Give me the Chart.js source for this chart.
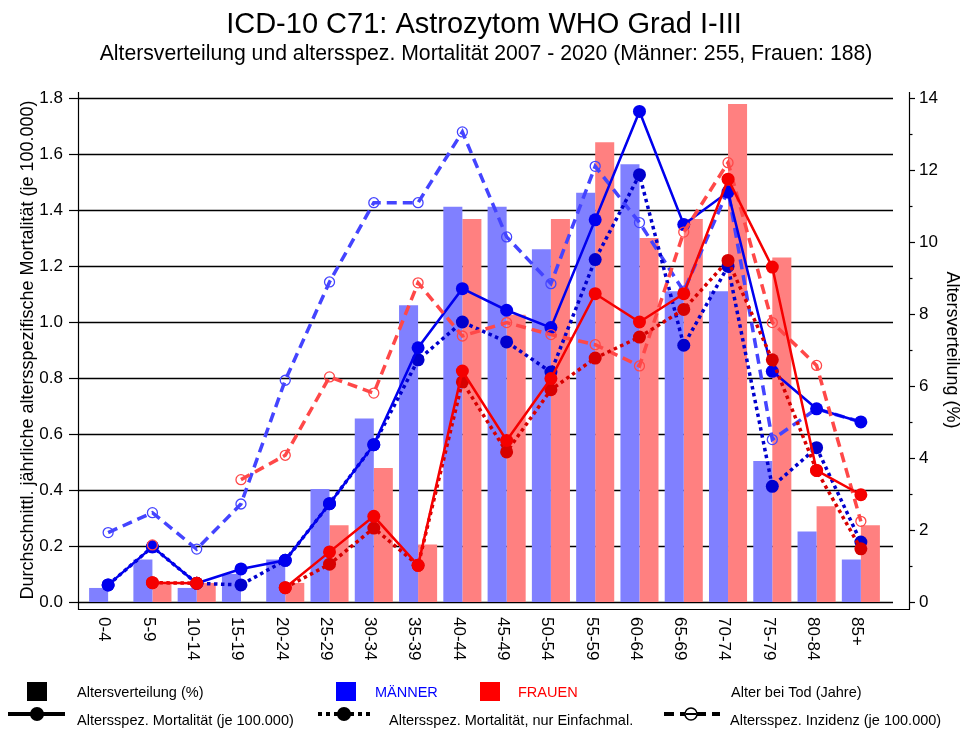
<!DOCTYPE html>
<html>
<head>
<meta charset="utf-8">
<title>ICD-10 C71: Astrozytom WHO Grad I-III</title>
<script src="https://cdn.jsdelivr.net/npm/chart.js@4.4.1/dist/chart.umd.min.js"></script>
<style>
  html, body { margin: 0; padding: 0; background: #fff; }
  #wrap { width: 963px; height: 729px; position: relative; }
</style>
</head>
<body>
<div id="wrap"><canvas id="chart" width="963" height="729"></canvas></div>
<script>
// --- Daten ---
const ageGroups = ['0-4', '5-9', '10-14', '15-19', '20-24', '25-29', '30-34', '35-39', '40-44',
                   '45-49', '50-54', '55-59', '60-64', '65-69', '70-74', '75-79', '80-84', '85+'];

// Altersverteilung (%)
const distMen   = [0.39, 1.18, 0.39, 0.78, 1.18, 3.14, 5.10, 8.24, 10.98, 10.98, 9.80, 11.37, 12.16, 8.63, 8.63, 3.92, 1.96, 1.18];
const distWomen = [0, 0.53, 0.53, 0, 0.53, 2.13, 3.72, 1.60, 10.64, 7.98, 10.64, 12.77, 10.11, 10.64, 13.83, 9.57, 2.66, 2.13];

// Altersspez. Mortalität (je 100.000)
const mortMen   = [0.061, 0.197, 0.067, 0.118, 0.149, 0.351, 0.562, 0.908, 1.119, 1.042, 0.980, 1.365, 1.752, 1.348, 1.464, 0.824, 0.690, 0.643];
const mortWomen = [null, 0.069, 0.067, null, 0.051, 0.179, 0.306, 0.131, 0.825, 0.577, 0.798, 1.101, 1.000, 1.101, 1.510, 1.196, 0.470, 0.383];

// Altersspez. Mortalität, nur Einfachmal.
const mortSingleMen   = [0.061, 0.197, 0.067, 0.061, 0.149, 0.351, 0.562, 0.865, 1.000, 0.929, 0.821, 1.223, 1.526, 0.917, 1.199, 0.413, 0.551, 0.214];
const mortSingleWomen = [null, 0.069, 0.067, null, 0.051, 0.135, 0.264, 0.131, 0.786, 0.536, 0.758, 0.871, 0.946, 1.045, 1.220, 0.865, 0.470, 0.190];

// Altersspez. Inzidenz (je 100.000)
const incMen   = [0.248, 0.319, 0.189, 0.350, 0.792, 1.143, 1.426, 1.426, 1.679, 1.304, 1.137, 1.556, 1.355, 1.110, 1.470, 0.580, 0.690, 0.643];
const incWomen = [null, 0.204, null, 0.437, 0.524, 0.804, 0.746, 1.140, 0.950, 0.998, 0.955, 0.919, 0.843, 1.321, 1.569, 0.998, 0.845, 0.288];

const leftTicks  = [0, 0.2, 0.4, 0.6, 0.8, 1.0, 1.2, 1.4, 1.6, 1.8];
const rightTicks = [0, 2, 4, 6, 8, 10, 12, 14];

const FONT = '"Liberation Sans", Arial, Helvetica, sans-serif';

const BLUE_BAR = 'rgb(128,128,255)';
const RED_BAR = 'rgb(255,128,128)';
const BLUE_SOLID = 'rgb(0,0,238)';
const BLUE_DOT = 'rgb(0,0,205)';
const BLUE_DASH = 'rgb(68,68,255)';
const RED_SOLID = 'rgb(245,0,0)';
const RED_DOT = 'rgb(215,0,0)';
const RED_DASH = 'rgb(255,72,72)';

// Geometrie des Rahmens (wie in der Vorlage)
const AXIS_LEFT_X = 78;
const AXIS_RIGHT_X = 909;
const AXIS_TOP_Y = 92;
const AXIS_BOTTOM_Y = 609;
const GRID_RIGHT_X = 893;

function solidLine(label, data, color) {
    return {
        type: 'line', label: label, data: data, yAxisID: 'y',
        borderColor: color, borderWidth: 2.5,
        pointRadius: 6.5, pointBackgroundColor: color, pointBorderWidth: 0,
        spanGaps: false, tension: 0
    };
}
function dottedLine(label, data, color) {
    return {
        type: 'line', label: label, data: data, yAxisID: 'y',
        borderColor: color, borderWidth: 3.5, borderDash: [3.5, 3.5],
        pointRadius: 6.5, pointBackgroundColor: color, pointBorderWidth: 0,
        spanGaps: false, tension: 0
    };
}
function dashedLine(label, data, color) {
    return {
        type: 'line', label: label, data: data, yAxisID: 'y',
        borderColor: color, borderWidth: 3.5, borderDash: [10, 6],
        pointRadius: 5, pointBackgroundColor: 'rgba(255,255,255,0)',
        pointBorderColor: color, pointBorderWidth: 1.3,
        spanGaps: false, tension: 0
    };
}

const blueLines = [solidLine('Mortalität Männer', mortMen, BLUE_SOLID),
                   dottedLine('Mortalität Einfachmal. Männer', mortSingleMen, BLUE_DOT),
                   dashedLine('Inzidenz Männer', incMen, BLUE_DASH)];
const redLines = [solidLine('Mortalität Frauen', mortWomen, RED_SOLID),
                  dottedLine('Mortalität Einfachmal. Frauen', mortSingleWomen, RED_DOT),
                  dashedLine('Inzidenz Frauen', incWomen, RED_DASH)];
blueLines.forEach(d => d.order = 2);
redLines.forEach(d => d.order = 1);

// --- Rahmen, Gitter, Beschriftung ---
const framePlugin = {
    id: 'frame',
    beforeDatasetsDraw(chart) {
        const ctx = chart.ctx;
        const y = chart.scales.y;
        ctx.save();
        ctx.strokeStyle = '#000';
        ctx.lineWidth = 1.3;
        leftTicks.forEach(v => {
            const py = Math.round(y.getPixelForValue(v)) + 0.5;
            ctx.beginPath();
            ctx.moveTo(AXIS_LEFT_X, py);
            ctx.lineTo(GRID_RIGHT_X, py);
            ctx.stroke();
        });
        ctx.restore();
    },
    afterDraw(chart) {
        const ctx = chart.ctx;
        const x = chart.scales.x;
        const y = chart.scales.y;
        const y2 = chart.scales.y2;
        ctx.save();

        // Titel
        ctx.fillStyle = '#000';
        ctx.textAlign = 'center';
        ctx.textBaseline = 'alphabetic';
        ctx.font = '29px ' + FONT;
        ctx.fillText('ICD-10 C71: Astrozytom WHO Grad I-III', 484, 33);
        ctx.font = '21.2px ' + FONT;
        ctx.fillText('Altersverteilung und altersspez. Mortalität 2007 - 2020 (Männer: 255, Frauen: 188)', 486, 60);

        // Achsenlinien
        ctx.strokeStyle = '#000';
        ctx.lineWidth = 1.2;
        ctx.beginPath();
        ctx.moveTo(AXIS_LEFT_X + 0.5, AXIS_TOP_Y);
        ctx.lineTo(AXIS_LEFT_X + 0.5, AXIS_BOTTOM_Y + 0.5);
        ctx.lineTo(AXIS_RIGHT_X + 0.5, AXIS_BOTTOM_Y + 0.5);
        ctx.lineTo(AXIS_RIGHT_X + 0.5, AXIS_TOP_Y);
        ctx.stroke();

        // Teilstriche links
        leftTicks.forEach(v => {
            const py = Math.round(y.getPixelForValue(v)) + 0.5;
            ctx.beginPath();
            ctx.moveTo(AXIS_LEFT_X - 9, py);
            ctx.lineTo(AXIS_LEFT_X, py);
            ctx.stroke();
        });
        // Teilstriche rechts (Haupt- und Zwischenstriche)
        for (let v = 0; v <= 14; v++) {
            const py = Math.round(y2.getPixelForValue(v)) + 0.5;
            const len = rightTicks.includes(v) ? 6 : 3.5;
            ctx.beginPath();
            ctx.moveTo(AXIS_RIGHT_X, py);
            ctx.lineTo(AXIS_RIGHT_X + len, py);
            ctx.stroke();
        }

        // Kategorien, senkrecht von oben nach unten
        ctx.font = '17px ' + FONT;
        ctx.textAlign = 'left';
        ctx.textBaseline = 'middle';
        ageGroups.forEach((lab, i) => {
            const px = x.getPixelForTick(i) - 4;
            ctx.save();
            ctx.translate(px, 617);
            ctx.rotate(Math.PI / 2);
            ctx.fillText(lab, 0, 0);
            ctx.restore();
        });

        // Legende
        drawLegend(ctx);
        ctx.restore();
    }
};

function drawLegend(ctx) {
    ctx.textAlign = 'left';
    ctx.textBaseline = 'alphabetic';
    ctx.font = '14.5px ' + FONT;

    // Zeile 1
    ctx.fillStyle = '#000';
    ctx.fillRect(27, 682, 20, 19);
    ctx.fillText('Altersverteilung (%)', 77, 697);
    ctx.fillStyle = 'rgb(0,0,255)';
    ctx.fillRect(336, 682, 20, 19);
    ctx.fillText('MÄNNER', 375, 697);
    ctx.fillStyle = 'rgb(255,0,0)';
    ctx.fillRect(480, 682, 20, 19);
    ctx.fillText('FRAUEN', 518, 697);
    ctx.fillStyle = '#000';
    ctx.fillText('Alter bei Tod (Jahre)', 731, 697);

    // Zeile 2
    const ly = 714;
    ctx.strokeStyle = '#000';
    ctx.lineWidth = 4;

    ctx.setLineDash([]);
    ctx.beginPath(); ctx.moveTo(8, ly); ctx.lineTo(65, ly); ctx.stroke();
    ctx.beginPath(); ctx.arc(37, ly, 7, 0, Math.PI * 2); ctx.fill();
    ctx.fillText('Altersspez. Mortalität (je 100.000)', 77, 725);

    ctx.setLineDash([4, 4]);
    ctx.beginPath(); ctx.moveTo(318, ly); ctx.lineTo(372, ly); ctx.stroke();
    ctx.setLineDash([]);
    ctx.beginPath(); ctx.arc(344, ly, 7, 0, Math.PI * 2); ctx.fill();
    ctx.fillText('Altersspez. Mortalität, nur Einfachmal.', 389, 725);

    ctx.setLineDash([10, 6]);
    ctx.beginPath(); ctx.moveTo(664, ly); ctx.lineTo(720, ly); ctx.stroke();
    ctx.setLineDash([]);
    ctx.fillStyle = '#fff';
    ctx.beginPath(); ctx.arc(691, ly, 6, 0, Math.PI * 2); ctx.fill();
    ctx.lineWidth = 1.5;
    ctx.beginPath(); ctx.arc(691, ly, 6, 0, Math.PI * 2); ctx.stroke();
    ctx.lineWidth = 2;
    ctx.beginPath(); ctx.moveTo(686, ly); ctx.lineTo(696, ly); ctx.stroke();
    ctx.fillStyle = '#000';
    ctx.fillText('Altersspez. Inzidenz (je 100.000)', 730, 725);
}

const ctx = document.getElementById('chart');
new Chart(ctx, {
    data: {
        labels: ageGroups,
        datasets: [
            ...redLines,
            ...blueLines,
            { type: 'bar', label: 'Altersverteilung Männer', data: distMen, yAxisID: 'y2',
              backgroundColor: BLUE_BAR, borderWidth: 0, order: 3,
              categoryPercentage: 0.86, barPercentage: 1.0 },
            { type: 'bar', label: 'Altersverteilung Frauen', data: distWomen, yAxisID: 'y2',
              backgroundColor: RED_BAR, borderWidth: 0, order: 3,
              categoryPercentage: 0.86, barPercentage: 1.0 }
        ]
    },
    options: {
        responsive: false,
        animation: false,
        layout: { padding: { top: 98, left: 0, right: 0, bottom: 0 } },
        plugins: {
            legend: { display: false },
            tooltip: { enabled: false },
            title: { display: false }
        },
        scales: {
            x: {
                type: 'category',
                offset: true,
                grid: { display: false, drawTicks: false },
                border: { display: false },
                ticks: { display: false },
                afterFit: s => { s.height = 127; }
            },
            y: {
                position: 'left',
                min: 0, max: 1.8,
                grid: { display: false, drawTicks: false },
                border: { display: false },
                ticks: {
                    stepSize: 0.2, padding: 23, color: '#000',
                    font: { family: FONT, size: 17 },
                    callback: v => Number(v).toFixed(1)
                },
                title: {
                    display: true,
                    text: 'Durchschnittl. jährliche altersspezifische Mortalität (je 100.000)',
                    color: '#000', font: { family: FONT, size: 18 },
                    padding: { top: 17, bottom: 0 }
                },
                afterFit: s => { s.width = 86; }
            },
            y2: {
                position: 'right',
                min: 0, max: 14,
                grid: { display: false, drawTicks: false },
                border: { display: false },
                ticks: {
                    stepSize: 2, padding: 36, color: '#000',
                    font: { family: FONT, size: 17 }
                },
                title: {
                    display: true,
                    text: 'Altersverteilung (%)',
                    color: '#000', font: { family: FONT, size: 18 },
                    padding: { top: 0, bottom: 0 }
                },
                afterFit: s => { s.width = 80; }
            }
        }
    },
    plugins: [framePlugin]
});
</script>
</body>
</html>
